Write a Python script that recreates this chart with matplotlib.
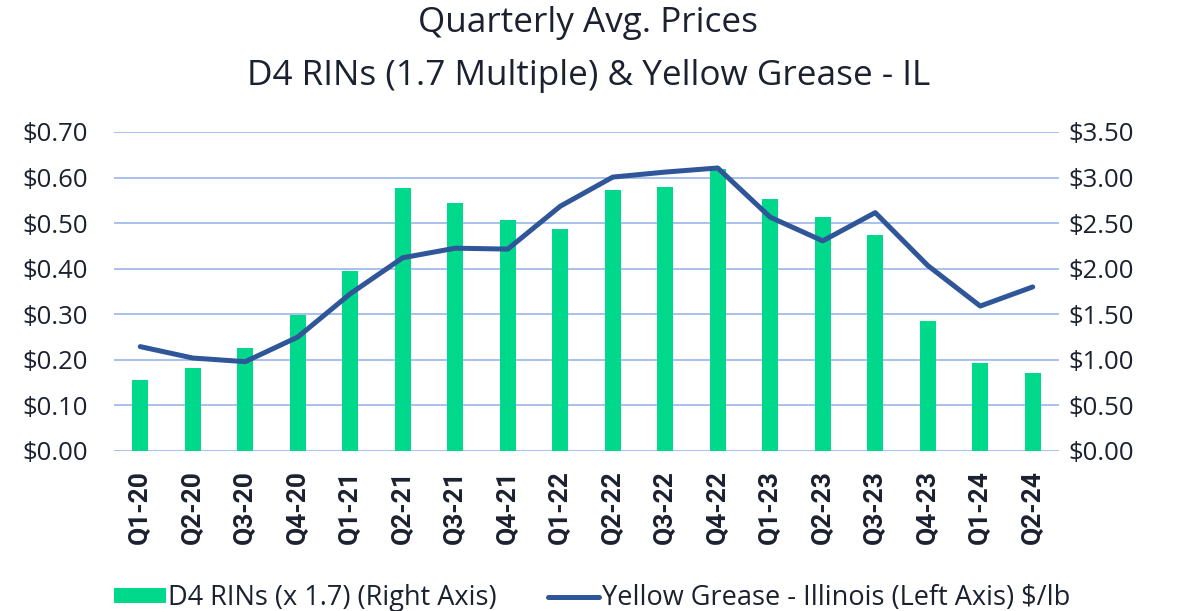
import matplotlib
matplotlib.use("Agg")
import matplotlib.pyplot as plt
import numpy as np
from matplotlib.patches import Patch
from matplotlib.lines import Line2D

quarters = ["Q1-20", "Q2-20", "Q3-20", "Q4-20", "Q1-21", "Q2-21", "Q3-21", "Q4-21",
            "Q1-22", "Q2-22", "Q3-22", "Q4-22", "Q1-23", "Q2-23", "Q3-23", "Q4-23",
            "Q1-24", "Q2-24"]
d4_rins = [0.78, 0.915, 1.13, 1.49, 1.98, 2.89, 2.72, 2.53,
           2.44, 2.86, 2.90, 3.09, 2.76, 2.57, 2.37, 1.43, 0.97, 0.86]
yellow_grease = [0.229, 0.204, 0.196, 0.250, 0.345, 0.424, 0.445, 0.443,
                 0.537, 0.601, 0.612, 0.621, 0.513, 0.461, 0.523, 0.407, 0.318, 0.360]
left_ticks = [0.0, 0.1, 0.2, 0.3, 0.4, 0.5, 0.6, 0.7]
right_ticks = [0.0, 0.5, 1.0, 1.5, 2.0, 2.5, 3.0, 3.5]

plt.rcParams['font.family'] = ['Open Sans', 'DejaVu Sans']
text_color = "#1c2130"
bar_color = "#00d98b"
line_color = "#30569a"
grid_color = "#a9c0ee"

fig = plt.figure(figsize=(11.84, 6.11), dpi=100)
ax = fig.add_axes([0.0963, 0.2619, 0.7981, 0.5221])
ax2 = ax.twinx()

x = np.arange(len(quarters))
for v in right_ticks:
    ax2.axhline(v, color=grid_color, lw=1.4, zorder=0)
ax2.bar(x, d4_rins, width=0.31, color=bar_color, zorder=2)
ax2.set_ylim(0, 3.5)
ax.set_ylim(0, 0.7)
ax.set_xlim(-0.5, len(quarters) - 0.5)

ax.plot(x, yellow_grease, color=line_color, lw=3.6, solid_capstyle='round', zorder=5)
ax.set_zorder(ax2.get_zorder() + 1)
ax.patch.set_visible(False)

for a in (ax, ax2):
    for s in a.spines.values():
        s.set_visible(False)
    a.tick_params(length=0, colors=text_color)
ax.tick_params(axis='y', pad=19, labelsize=18.5)
ax2.tick_params(axis='y', pad=7, labelsize=18.5)
ax.tick_params(axis='x', pad=14)

ax.set_yticks(left_ticks)
ax.set_yticklabels([f"${v:.2f}" for v in left_ticks])
ax2.set_yticks(right_ticks)
ax2.set_yticklabels([f"${v:.2f}" for v in right_ticks])
ax.set_xticks(x)
ax.set_xticklabels(quarters, rotation=90, fontsize=19, fontweight='bold',
                   family=['Roboto', 'DejaVu Sans'], color=text_color)

fig.text(0.497, 0.962, "Quarterly Avg. Prices", ha='center', va='center',
         fontsize=25.3, color=text_color)
fig.text(0.497, 0.876, "D4 RINs (1.7 Multiple) & Yellow Grease - IL", ha='center', va='center',
         fontsize=25.3, color=text_color)

handles = [Patch(facecolor=bar_color, edgecolor='none'),
           Line2D([0], [0], color=line_color, lw=3.6, solid_capstyle='round')]
labels = ["D4 RINs (x 1.7) (Right Axis)", "Yellow Grease - Illinois (Left Axis) $/lb"]
leg = fig.legend(handles, labels, loc='center', bbox_to_anchor=(0.5, 0.021), ncol=2,
                 frameon=False, fontsize=19.5, handlelength=1.9, handleheight=0.48,
                 handletextpad=0.08, columnspacing=1.9, labelcolor=text_color,
                 borderaxespad=0, borderpad=0)

fig.canvas.draw()
for t in ax.get_xticklabels():
    t.set_fontfamily(['Roboto', 'DejaVu Sans'])
    t.set_fontweight('bold')
    t.set_fontsize(19)

fig.savefig("out.png", dpi=100)
